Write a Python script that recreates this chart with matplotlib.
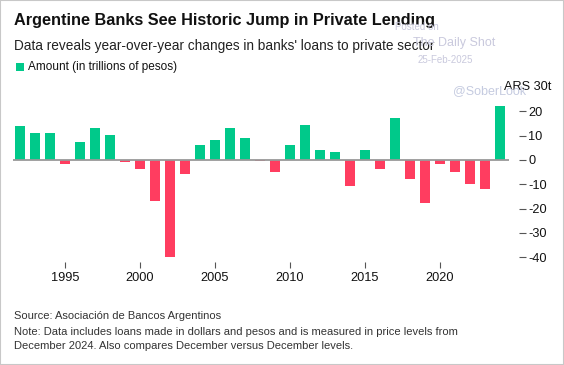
import matplotlib
matplotlib.use("Agg")
import matplotlib.pyplot as plt
import matplotlib.transforms as mtransforms
from matplotlib.patches import Rectangle

plt.rcParams['font.family'] = ['Liberation Sans', 'DejaVu Sans']

years = list(range(1992, 2025))
amount = [14, 11, 11, -1.6, 7.3, 13.1, 10.1, -0.8, -3.8, -16.8, -39.9, -5.9,
          6.2, 8.2, 13.1, 9.2, -0.4, -4.8, 6.2, 14.2, 4.2, 3.3, -10.8, 4.2,
          -3.8, 17.3, -7.8, -17.8, -1.8, -4.8, -9.9, -11.8, 22.2]
yticks = [20, 10, 0, -10, -20, -30, -40]
xticks = [1995, 2000, 2005, 2010, 2015, 2020]

green = '#00c98a'
red = '#ff3d60'
colors = [green if v >= 0 else red for v in amount]

W, H = 564, 365
fig = plt.figure(figsize=(W / 100, H / 100), dpi=100)
fig.patches.append(Rectangle((0, 0), 1, 1, transform=fig.transFigure,
                             fill=False, edgecolor='#c8c8c8', linewidth=1.5))

ax = fig.add_axes([12.5 / W, 1 - 262 / H, (509 - 12.5) / W, (262 - 87) / H])
ax.bar(years, amount, width=0.7, color=colors, zorder=2)
ax.axhline(0, color='#999999', linewidth=1.3, zorder=3)
ax.set_xlim(1991.5, 2024.6)
ax.set_ylim(-42, 30)

for s in ['top', 'left', 'bottom']:
    ax.spines[s].set_visible(False)
ax.spines['right'].set_position(('outward', 7))
ax.spines['right'].set_visible(False)
ax.yaxis.tick_right()
ax.set_yticks(yticks)
ax.set_yticklabels([str(t) for t in yticks])
ax.tick_params(axis='y', length=5, width=0.8, color='#555555', pad=2,
               labelsize=9.2, labelcolor='#111111')
ax.set_xticks(xticks)
ax.tick_params(axis='x', length=4, width=0.8, color='#555555', pad=3,
               labelsize=9.2, labelcolor='#111111')
trans = mtransforms.blended_transform_factory(fig.transFigure, ax.transData)
ax.text(551 / W, 30, 'ARS 30t', transform=trans, ha='right', va='center',
        fontsize=9.2, color='#111111')

fig.text(14 / W, 1 - 20 / H, 'Argentine Banks See Historic Jump in Private Lending',
         fontsize=11.7, fontweight='bold', color='#111111', va='center')
fig.text(14 / W, 1 - 46 / H, "Data reveals year-over-year changes in banks' loans to private sector",
         fontsize=9.8, color='#222222', va='center')
fig.patches.append(Rectangle((16 / W, 1 - 71 / H), 8 / W, 8 / H, transform=fig.transFigure,
                             facecolor=green, edgecolor='none'))
fig.text(28 / W, 1 - 67 / H, 'Amount (in trillions of pesos)',
         fontsize=8.5, color='#111111', va='center')

fig.text(14 / W, 1 - 316 / H, 'Source: Asociación de Bancos Argentinos',
         fontsize=8.05, color='#333333', va='center')
fig.text(14 / W, 1 - 332 / H,
         'Note: Data includes loans made in dollars and pesos and is measured in price levels from',
         fontsize=8.05, color='#333333', va='center')
fig.text(14 / W, 1 - 346 / H, 'December 2024. Also compares December versus December levels.',
         fontsize=8.05, color='#333333', va='center')

# watermarks
wm = '#c9c9dd'
fig.text(395 / W, 1 - 27 / H, 'Posted on', fontsize=7, color=wm, va='center')
fig.text(413 / W, 1 - 43 / H, 'The Daily Shot', fontsize=9, color=wm, va='center')
fig.text(418 / W, 1 - 60 / H, '25-Feb-2025', fontsize=7, color=wm, va='center')
fig.text(453 / W, 1 - 91 / H, '@SoberLook', fontsize=9, color='#c5cbe0', va='center')

fig.savefig('out.png', dpi=100)
